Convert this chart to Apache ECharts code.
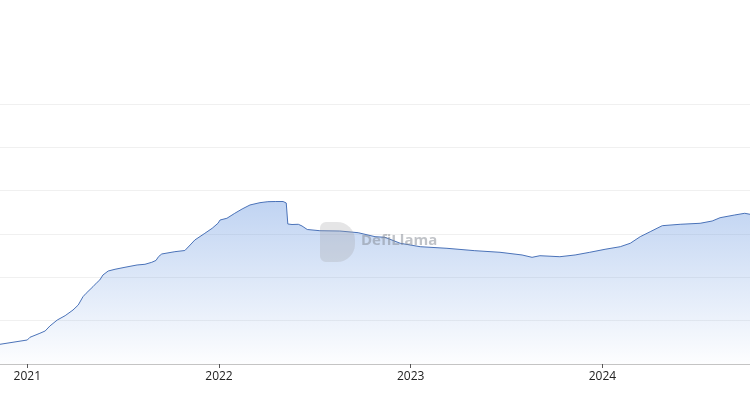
<!DOCTYPE html>
<html>
<head>
<meta charset="utf-8">
<script src="https://cdn.jsdelivr.net/npm/echarts@6/dist/echarts.min.js"></script>
<style>
html,body{margin:0;padding:0;background:#ffffff;}
#chart{width:750px;height:397px;}
</style>
</head>
<body>
<div id="chart"></div>
<script>
const dates = [
  '2020-11-10','2021-01-01','2021-01-06','2021-01-25','2021-02-04','2021-02-13','2021-02-27',
  '2021-03-14','2021-03-29','2021-04-08','2021-04-17','2021-04-23','2021-05-06','2021-05-14',
  '2021-05-19','2021-05-25','2021-06-04','2021-06-17','2021-07-06','2021-07-29','2021-08-13',
  '2021-08-26','2021-09-03','2021-09-08','2021-09-14','2021-10-09','2021-10-28','2021-11-07',
  '2021-11-16','2021-12-05','2021-12-19','2021-12-30','2022-01-03','2022-01-16','2022-01-31',
  '2022-02-14','2022-03-01','2022-03-20','2022-04-04','2022-04-18','2022-05-03','2022-05-09',
  '2022-05-12','2022-05-20','2022-06-01','2022-06-08','2022-06-18','2022-07-12','2022-08-19',
  '2022-09-23','2022-10-25','2022-11-13','2022-12-12','2023-01-19','2023-03-11','2023-05-03',
  '2023-06-20','2023-08-01','2023-08-20','2023-09-04','2023-10-12','2023-11-10','2023-12-08',
  '2024-01-06','2024-02-04','2024-02-23','2024-03-13','2024-04-01','2024-04-14','2024-04-24',
  '2024-05-28','2024-07-05','2024-07-28','2024-08-12','2024-09-09','2024-09-28','2024-10-08'
];
const tvl = [
  0.455,0.554,0.616,0.709,0.762,0.877,1.015,
  1.115,1.246,1.362,1.553,1.632,1.784,1.886,
  1.939,2.054,2.146,2.186,2.232,2.285,2.301,
  2.347,2.390,2.480,2.539,2.592,2.619,2.746,
  2.862,3.016,3.132,3.247,3.323,3.363,3.478,
  3.577,3.670,3.723,3.746,3.750,3.750,3.716,
  3.231,3.219,3.224,3.185,3.104,3.076,3.069,
  3.030,2.938,2.924,2.786,2.707,2.670,2.615,
  2.578,2.516,2.462,2.499,2.476,2.516,2.578,
  2.647,2.707,2.786,2.938,3.053,3.132,3.192,
  3.224,3.247,3.300,3.376,3.439,3.478,3.455
];
const tickDates = ['2021-01-01','2022-01-01','2023-01-01','2024-01-01'];
const tickLabels = ['2021','2022','2023','2024'];
const xStart = '2020-11-10';
const xEnd = '2024-10-08';

const toTs = d => Date.parse(d + 'T00:00:00Z');
const tickTimes = tickDates.map(toTs);
const seriesData = dates.map((d, i) => [toTs(d), tvl[i]]);

const chart = echarts.init(document.getElementById('chart'), null, {renderer: 'canvas'});
chart.setOption({
  animation: false,
  backgroundColor: '#ffffff',
  grid: {left: 0, right: 0, top: 104, bottom: 33, containLabel: false},
  xAxis: {
    type: 'value',
    min: toTs(xStart),
    max: toTs(xEnd),
    axisLine: {show: true, onZero: false, lineStyle: {color: '#c4c4c4', width: 1}},
    axisTick: {show: true, length: 4, lineStyle: {color: '#555'}, customValues: tickTimes},
    splitLine: {show: false},
    axisLabel: {
      customValues: tickTimes,
      color: '#222',
      fontSize: 12,
      fontFamily: 'Open Sans, Noto Sans, sans-serif',
      margin: 7,
      formatter: function (v) {
        let best = 0;
        for (let i = 0; i < tickTimes.length; i++) {
          if (Math.abs(tickTimes[i] - v) < Math.abs(tickTimes[best] - v)) best = i;
        }
        return tickLabels[best];
      }
    }
  },
  yAxis: {
    type: 'value',
    min: 0,
    max: 6,
    interval: 1,
    axisLabel: {show: false},
    axisLine: {show: false},
    axisTick: {show: false},
    splitLine: {lineStyle: {color: '#f0f0f0', width: 1}}
  },
  series: [{
    type: 'line',
    data: seriesData,
    showSymbol: false,
    symbol: 'none',
    lineStyle: {color: '#4a72b8', width: 1},
    areaStyle: {
      color: new echarts.graphic.LinearGradient(0, 0, 0, 1, [
        {offset: 0, color: 'rgba(110,155,225,0.62)'},
        {offset: 1, color: 'rgba(110,155,225,0.02)'}
      ])
    },
    z: 2
  }],
  graphic: [
    {
      type: 'rect',
      left: 320, top: 222,
      shape: {width: 35, height: 40, r: [6, 18, 18, 6]},
      style: {fill: 'rgba(160,160,165,0.28)'},
      z: 10
    },
    {
      type: 'text',
      left: 361, top: 233,
      style: {
        text: 'DefiLlama',
        fill: 'rgba(130,135,145,0.5)',
        font: 'bold 15px "Open Sans", "Noto Sans", sans-serif'
      },
      z: 10
    }
  ]
});
</script>
</body>
</html>
